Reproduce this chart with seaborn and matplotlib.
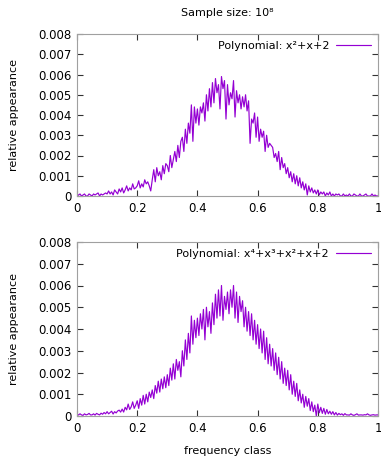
import numpy as np
import pandas as pd
import matplotlib
matplotlib.use("Agg")
import matplotlib.pyplot as plt
import seaborn as sns

# =============================================================================
# Data (values in units of 1e-4, step 0.005 on x)
# =============================================================================

freq_class = np.round(np.arange(0, 201) * 0.005, 3)

poly2_vals = [
    0, 0.5, 1, 0, 0.5, 1, 0, 0, 1, 0.5,
    0, 1, 0.5, 1, 1.5, 0, 1, 0.5, 1, 1.5,
    1, 2.5, 1, 2, 0.5, 3, 2, 1, 3.5, 2,
    4, 1.5, 3, 5, 2.5, 4, 3, 6, 3.5, 4,
    5, 7.5, 4, 6, 4.5, 8, 6, 7, 5, 2.5,
    8, 13, 7, 14, 10, 12, 8, 15, 11, 16,
    15, 12, 20, 14, 18, 22, 17, 25, 19, 27,
    29, 22, 33, 26, 36, 31, 45, 27, 44, 36,
    43, 35, 44, 41, 46, 37, 50, 42, 53, 44,
    56, 46, 58, 51, 55, 43, 59, 53, 57, 38,
    55, 45, 51, 48, 57, 39, 52, 46, 50, 43,
    49, 44, 50, 42, 47, 26, 38, 36, 41, 29,
    39, 27, 33, 29, 32, 22, 30, 24, 26, 25,
    24, 19, 21, 17, 22, 13, 19, 14, 16, 11,
    14, 9, 12, 7, 11, 6, 10, 5, 9, 4,
    7, 3, 6, 0.5, 5, 2, 4, 1.5, 3, 1,
    3, 0.5, 2, 1, 2, 0, 1.5, 0.5, 2, 0,
    1, 0, 1, 0.5, 1, 0, 0, 1, 0, 0.5,
    0, 1, 0, 0, 1, 0.5, 0, 0, 1, 0,
    0, 0.5, 1, 0, 0, 0, 1, 0, 0.5, 0,
    0,
]

poly4_vals = [
    0.5, 0.5, 1, 0.5, 0.3, 1, 0.5, 0.7, 1.2, 0.5,
    0.5, 1, 0.4, 1.2, 0.8, 0.5, 1.3, 0.8, 1.6, 1,
    2, 1, 1.6, 2.2, 0.9, 2, 1.4, 2.3, 2.7, 1.8,
    3.2, 1.8, 4, 2.8, 5.5, 3, 4.2, 6.5, 3.5, 5,
    7, 3.5, 8, 5, 9.5, 5.5, 10, 6.5, 11, 8.5,
    12, 8, 14, 10.5, 16, 11, 17, 12.5, 18, 13,
    19, 14, 22, 16.5, 24, 17, 26, 21, 25, 18,
    30, 23, 35, 26, 38, 29, 46, 33, 44, 36,
    45, 37, 47, 40, 49, 35, 50, 41, 48, 38,
    52, 42, 56, 45, 58, 46, 60, 44, 55, 49,
    57, 47, 58, 50, 60, 45, 57, 43, 55, 48,
    53, 41, 50, 39, 48, 37, 47, 35, 44, 33,
    42, 31, 40, 29, 39, 26, 36, 24, 33, 23,
    31, 21, 29, 19, 27, 17, 25, 15, 22, 14,
    21, 12, 19, 10, 16, 9, 15, 7, 12, 6,
    10, 4, 9, 4.5, 8, 2.5, 6.5, 2, 5, 0,
    5.5, 1.5, 4, 1.2, 3.5, 0.8, 3, 1, 2.2, 0.8,
    2, 0.5, 1.6, 0.4, 1.2, 0.6, 1, 0.3, 1.1, 0.5,
    0.5, 0.4, 1, 0.5, 0.3, 0.6, 1, 0.4, 0.5, 0.5,
    0.4, 0.6, 0.5, 1, 0.5, 0.3, 0.5, 0.6, 0.4, 0.5,
    0.5,
]

series_labels = ["Polynomial: x²+x+2", "Polynomial: x⁴+x³+x²+x+2"]
x_ticks = [0, 0.2, 0.4, 0.6, 0.8, 1]
x_ticklabels = ["0", "0.2", "0.4", "0.6", "0.8", "1"]
y_ticks = [0, 0.001, 0.002, 0.003, 0.004, 0.005, 0.006, 0.007, 0.008]
y_ticklabels = ["0", "0.001", "0.002", "0.003", "0.004", "0.005", "0.006", "0.007", "0.008"]

df_top = pd.DataFrame({"x": freq_class, "y": np.array(poly2_vals) * 1e-4})
df_bot = pd.DataFrame({"x": freq_class, "y": np.array(poly4_vals) * 1e-4})

# =============================================================================
# Plotting
# =============================================================================

sns.set_style("ticks")
plt.rcParams['font.family'] = ['DejaVu Sans']
plt.rcParams['font.size'] = 8
plt.rcParams['text.color'] = 'black'
plt.rcParams['xtick.labelcolor'] = 'black'
plt.rcParams['ytick.labelcolor'] = 'black'
plt.rcParams['axes.labelcolor'] = 'black'

fig = plt.figure(figsize=(3.81, 4.62), dpi=100)
ax1 = fig.add_axes([77 / 381, 266 / 462, 301 / 381, 162 / 462])
ax2 = fig.add_axes([77 / 381, 46 / 462, 301 / 381, 174 / 462])

for ax, df, lab in [(ax1, df_top, series_labels[0]), (ax2, df_bot, series_labels[1])]:
    sns.lineplot(data=df, x="x", y="y", ax=ax, color="#9400d3", linewidth=0.85, label=lab)
    ax.set_xlim(0, 1)
    ax.set_ylim(0, 0.008)
    ax.set_xticks(x_ticks)
    ax.set_xticklabels(x_ticklabels, fontsize=8.5, color="black")
    ax.set_yticks(y_ticks)
    ax.set_yticklabels(y_ticklabels, fontsize=8.5, color="black")
    ax.tick_params(direction="in", length=4, width=0.8, color="#333333",
                   top=True, right=True, pad=4)
    for sp in ax.spines.values():
        sp.set_color("#a0a0a0")
        sp.set_linewidth(0.8)
    ax.set_xlabel("")
    ax.set_ylabel("")
    leg = ax.legend(loc="upper right", frameon=False, markerfirst=False, handlelength=3.2,
                    fontsize=8, borderaxespad=0.2, handletextpad=0.6)
    for t in leg.get_texts():
        t.set_color("black")

# y labels placed by hand, like gnuplot does
fig.text(14 / 381, 1 - 115 / 462, "relative appearance", rotation=90,
         ha="center", va="center", fontsize=8, color="black")
fig.text(14 / 381, 1 - 329 / 462, "relative appearance", rotation=90,
         ha="center", va="center", fontsize=8, color="black")

ax2.set_xlabel("frequency class", fontsize=8, labelpad=8, color="black")
fig.text(227 / 381, 1 - 13 / 462, "Sample size: 10⁸", ha="center", va="center",
         fontsize=8, color="black")

fig.savefig("out.png", dpi=100)
